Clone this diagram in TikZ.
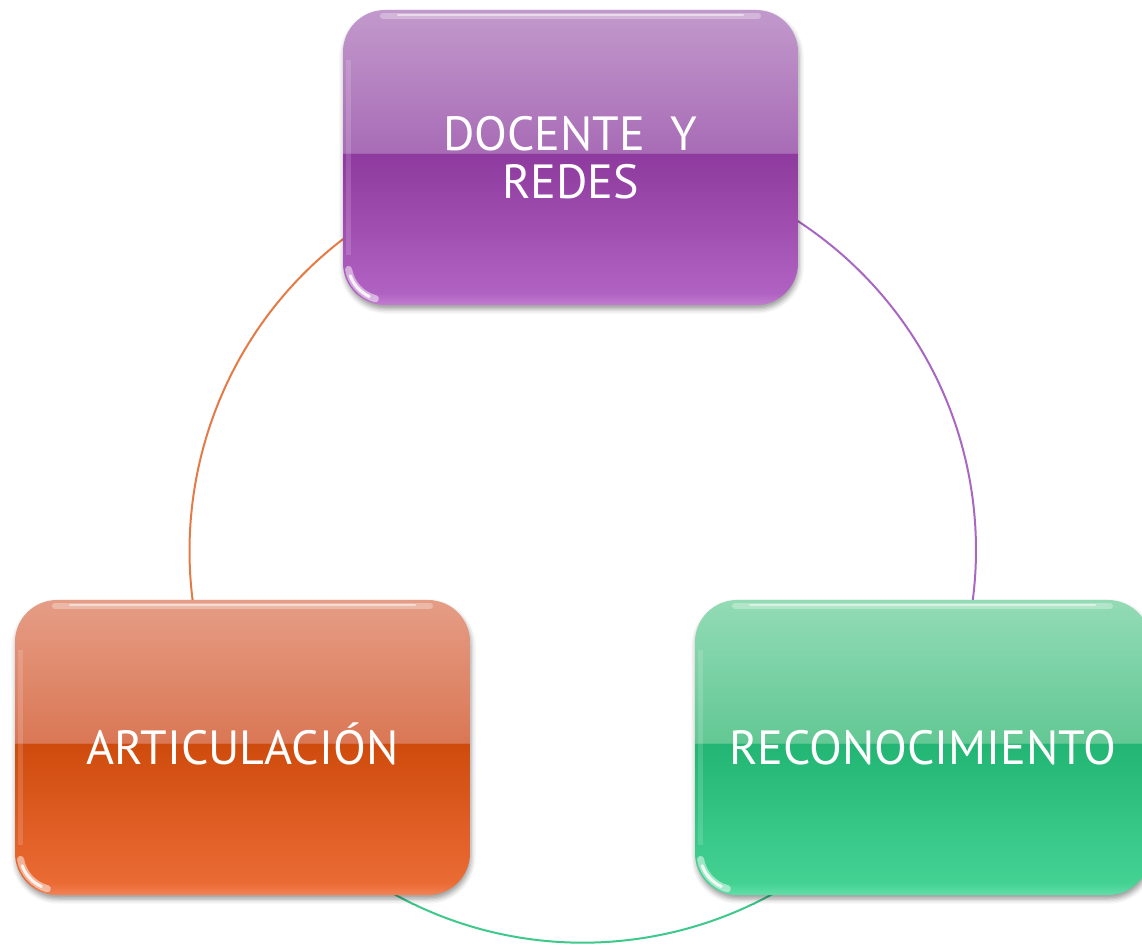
\documentclass[tikz,border=0pt]{standalone}
\usepackage{fontspec}
\setmainfont{PT Sans}
\usetikzlibrary{shadows.blur,backgrounds}
% purple
\definecolor{pE}{HTML}{C27DD0}\definecolor{pB}{HTML}{B062C2}\definecolor{pM}{HTML}{8E3A9E}
\definecolor{pU}{HTML}{A86CB6}\definecolor{pT}{HTML}{C299CC}
% orange
\definecolor{oE}{HTML}{F28456}\definecolor{oB}{HTML}{EB6B35}\definecolor{oM}{HTML}{CF4B0D}
\definecolor{oU}{HTML}{DA7755}\definecolor{oT}{HTML}{E59D85}
% green
\definecolor{gE}{HTML}{62DEA8}\definecolor{gB}{HTML}{44D293}\definecolor{gM}{HTML}{22B573}
\definecolor{gU}{HTML}{62C894}\definecolor{gT}{HTML}{93DBB5}
% arcs
\definecolor{arcO}{HTML}{E47A45}\definecolor{arcP}{HTML}{A867C0}\definecolor{arcG}{HTML}{3DC98B}
\pgfdeclareverticalshading{glosspurple}{100bp}{color(0bp)=(pE); color(25bp)=(pE); color(27bp)=(pB); color(50.6bp)=(pM); color(50.8bp)=(pU); color(75bp)=(pT); color(100bp)=(pT)}
\pgfdeclareverticalshading{glossorange}{100bp}{color(0bp)=(oE); color(25bp)=(oE); color(27bp)=(oB); color(50.6bp)=(oM); color(50.8bp)=(oU); color(75bp)=(oT); color(100bp)=(oT)}
\pgfdeclareverticalshading{glossgreen}{100bp}{color(0bp)=(gE); color(25bp)=(gE); color(27bp)=(gB); color(50.6bp)=(gM); color(50.8bp)=(gU); color(75bp)=(gT); color(100bp)=(gT)}
\begin{document}
\begin{tikzpicture}[x=1pt,y=1pt,
  gloss/.style={path picture={
    \draw[white, opacity=.3, line width=6pt, line cap=round]
      ([xshift=40pt,yshift=-6pt]path picture bounding box.north west) --
      ([xshift=-40pt,yshift=-6pt]path picture bounding box.north east);
    \draw[white, opacity=.5, line width=2.5pt, line cap=round]
      ([xshift=55pt,yshift=-5pt]path picture bounding box.north west) --
      ([xshift=-55pt,yshift=-5pt]path picture bounding box.north east);
    \draw[white, opacity=.5, line width=7pt, line cap=round]
      ([xshift=42pt,yshift=42pt]path picture bounding box.south west) ++(190:37pt)
      arc[start angle=190, end angle=255, radius=37pt];
    \draw[white, opacity=.85, line width=3pt, line cap=round]
      ([xshift=42pt,yshift=42pt]path picture bounding box.south west) ++(200:37pt)
      arc[start angle=200, end angle=245, radius=37pt];
    \draw[white, opacity=.15, line width=5pt]
      ([xshift=5pt,yshift=50pt]path picture bounding box.south west) --
      ([xshift=5pt,yshift=-50pt]path picture bounding box.north west);
  }},
  gbox/.style={rounded corners=42pt, minimum width=455pt, minimum height=295pt,
    inner sep=0pt, shade, shading=#1, text=white, align=center,
    font=\fontsize{48}{48}\selectfont,
    blur shadow={shadow xshift=1pt, shadow yshift=-4pt, shadow blur radius=5pt, shadow opacity=40},
    gloss},
  link/.style={line width=2pt}
]
\useasboundingbox (0,0) rectangle (1142,945);
\node[gbox=glosspurple, text height=82pt, text depth=0pt] (T) at (570.5,787.5) {DOCENTE\ \ Y\\REDES};
\node[gbox=glossorange, text height=34pt, text depth=0pt] (L) at (242.5,197.5) {ARTICULACIÓN};
\node[gbox=glossgreen, text height=34pt, text depth=0pt]  (R) at (922.5,197.5) {RECONOCIMIENTO};
\begin{scope}[on background layer]
  \draw[link, arcO] (L.center) arc[start angle=210.09, end angle=91.86, radius=392.75];
  \draw[link, arcP] (T.center) arc[start angle=91.86, end angle=-30.21, radius=392.75];
  \draw[link, arcG] (R.center) arc[start angle=-30.21, end angle=-149.91, radius=392.75];
\end{scope}
\end{tikzpicture}
\end{document}
